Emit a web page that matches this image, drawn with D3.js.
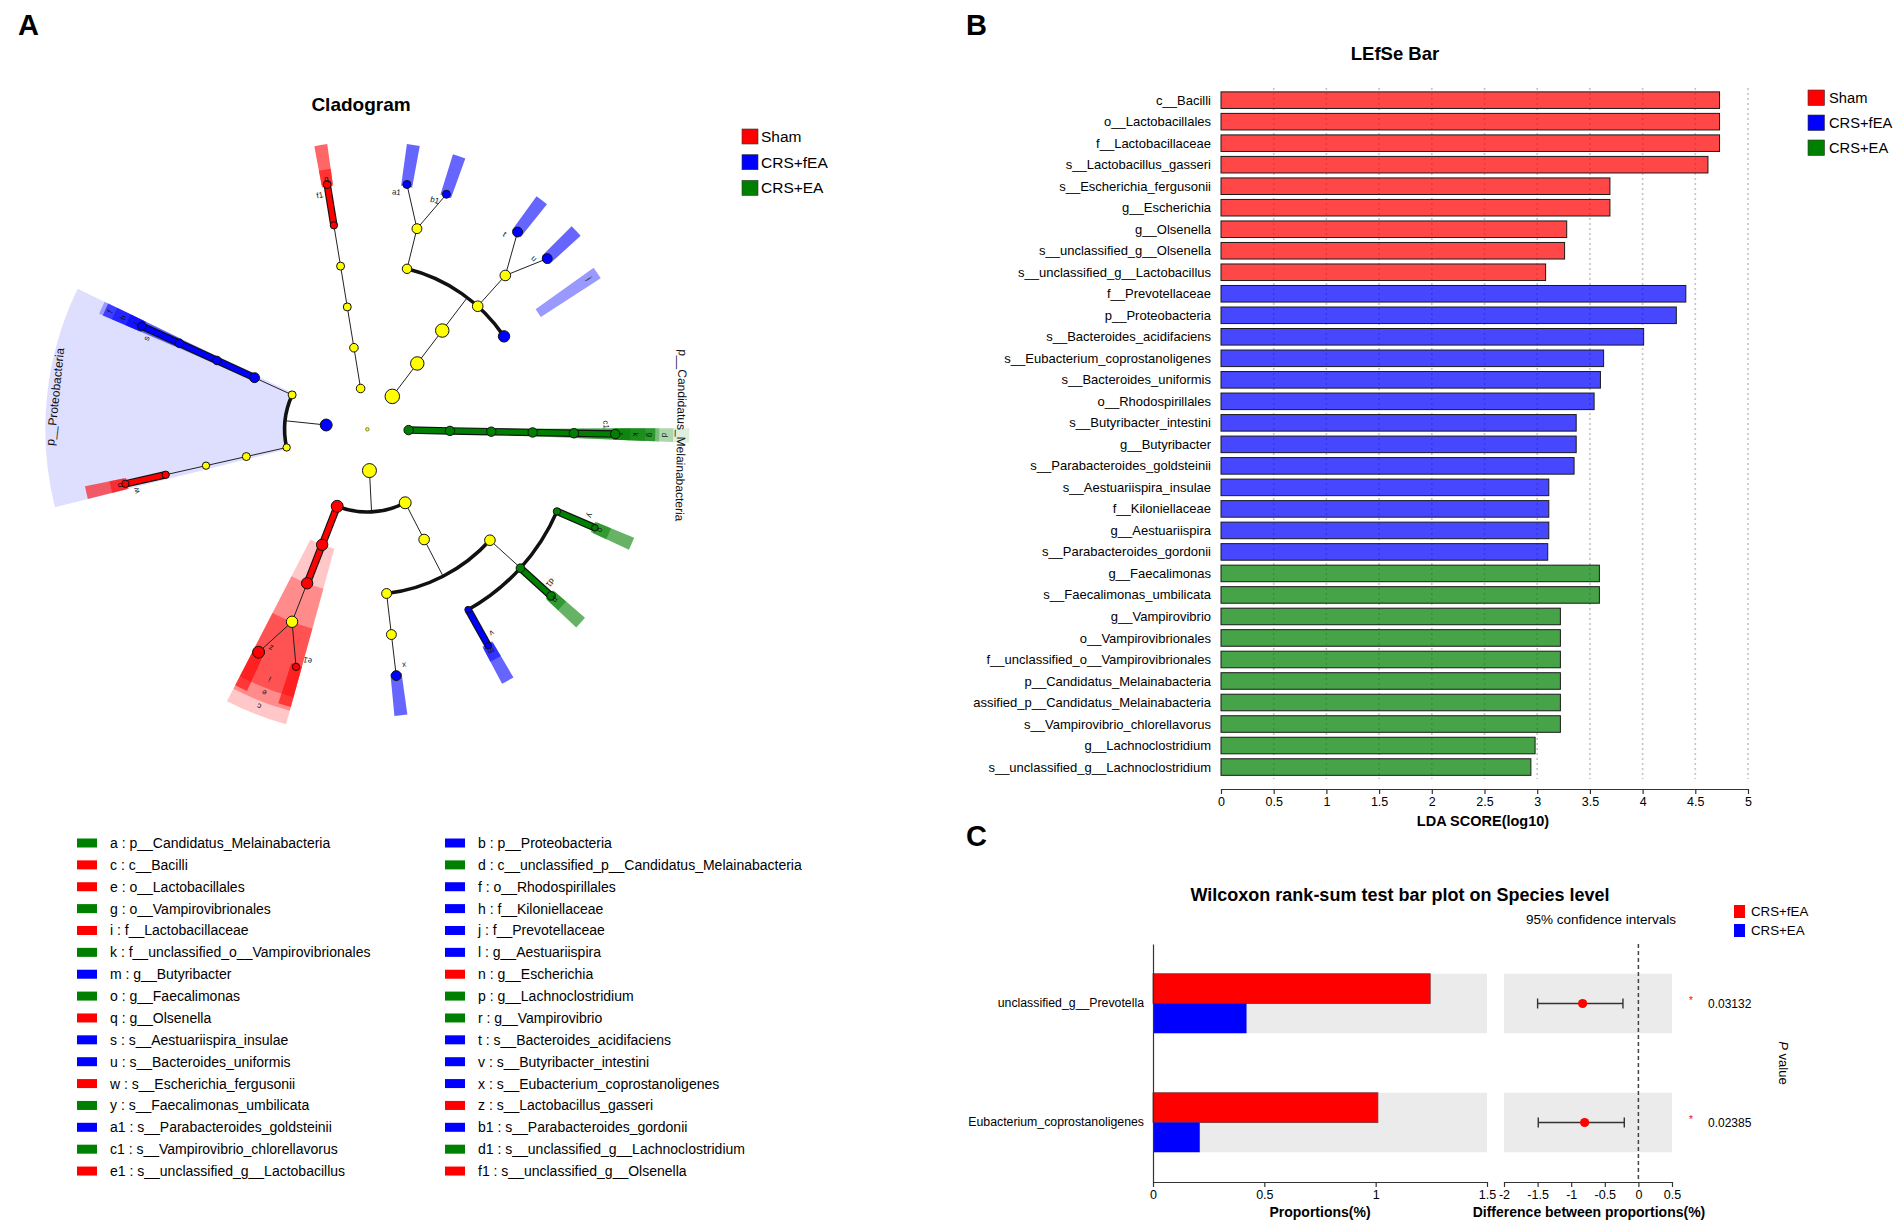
<!DOCTYPE html>
<html>
<head>
<meta charset="utf-8">
<script src="https://cdn.jsdelivr.net/npm/d3@7"></script>
<style>
  body { margin: 0; background: #fff; }
  svg { display: block; font-family: "Liberation Sans", Arial, sans-serif; }
</style>
</head>
<body>
<svg id="fig" width="1901" height="1225"></svg>
<script>
// ---- shared groups ----
const groups = ['Sham', 'CRS+fEA', 'CRS+EA'];
const groupColors = ['#ff0000', '#0000ff', '#008000'];

// ---- LEfSe bar (panel B) ----
const ldaTaxa = [
  'c__Bacilli', 'o__Lactobacillales', 'f__Lactobacillaceae', 's__Lactobacillus_gasseri',
  's__Escherichia_fergusonii', 'g__Escherichia', 'g__Olsenella', 's__unclassified_g__Olsenella',
  's__unclassified_g__Lactobacillus',
  'f__Prevotellaceae', 'p__Proteobacteria', 's__Bacteroides_acidifaciens',
  's__Eubacterium_coprostanoligenes', 's__Bacteroides_uniformis', 'o__Rhodospirillales',
  's__Butyribacter_intestini', 'g__Butyribacter', 's__Parabacteroides_goldsteinii',
  's__Aestuariispira_insulae', 'f__Kiloniellaceae', 'g__Aestuariispira', 's__Parabacteroides_gordonii',
  'g__Faecalimonas', 's__Faecalimonas_umbilicata', 'g__Vampirovibrio', 'o__Vampirovibrionales',
  'f__unclassified_o__Vampirovibrionales', 'p__Candidatus_Melainabacteria',
  'assified_p__Candidatus_Melainabacteria', 's__Vampirovibrio_chlorellavorus',
  'g__Lachnoclostridium', 's__unclassified_g__Lachnoclostridium'
];
const ldaScore = [
  4.73, 4.73, 4.73, 4.62, 3.69, 3.69, 3.28, 3.26, 3.08,
  4.41, 4.32, 4.01, 3.63, 3.60, 3.54, 3.37, 3.37, 3.35, 3.11, 3.11, 3.11, 3.10,
  3.59, 3.59, 3.22, 3.22, 3.22, 3.22, 3.22, 3.22, 2.98, 2.94
];
const ldaGroup = [
  'Sham', 'Sham', 'Sham', 'Sham', 'Sham', 'Sham', 'Sham', 'Sham', 'Sham',
  'CRS+fEA', 'CRS+fEA', 'CRS+fEA', 'CRS+fEA', 'CRS+fEA', 'CRS+fEA', 'CRS+fEA',
  'CRS+fEA', 'CRS+fEA', 'CRS+fEA', 'CRS+fEA', 'CRS+fEA', 'CRS+fEA',
  'CRS+EA', 'CRS+EA', 'CRS+EA', 'CRS+EA', 'CRS+EA', 'CRS+EA', 'CRS+EA', 'CRS+EA', 'CRS+EA', 'CRS+EA'
];
const ldaTicks = [0, 0.5, 1, 1.5, 2, 2.5, 3, 3.5, 4, 4.5, 5];

// ---- cladogram markers (panel A legend) ----
const markerLetters = ['a', 'b', 'c', 'd', 'e', 'f', 'g', 'h', 'i', 'j', 'k', 'l', 'm', 'n', 'o', 'p',
  'q', 'r', 's', 't', 'u', 'v', 'w', 'x', 'y', 'z', 'a1', 'b1', 'c1', 'd1', 'e1', 'f1'];
const markerNames = [
  'p__Candidatus_Melainabacteria', 'p__Proteobacteria', 'c__Bacilli',
  'c__unclassified_p__Candidatus_Melainabacteria', 'o__Lactobacillales', 'o__Rhodospirillales',
  'o__Vampirovibrionales', 'f__Kiloniellaceae', 'f__Lactobacillaceae', 'f__Prevotellaceae',
  'f__unclassified_o__Vampirovibrionales', 'g__Aestuariispira', 'g__Butyribacter', 'g__Escherichia',
  'g__Faecalimonas', 'g__Lachnoclostridium', 'g__Olsenella', 'g__Vampirovibrio',
  's__Aestuariispira_insulae', 's__Bacteroides_acidifaciens', 's__Bacteroides_uniformis',
  's__Butyribacter_intestini', 's__Escherichia_fergusonii', 's__Eubacterium_coprostanoligenes',
  's__Faecalimonas_umbilicata', 's__Lactobacillus_gasseri', 's__Parabacteroides_goldsteinii',
  's__Parabacteroides_gordonii', 's__Vampirovibrio_chlorellavorus', 's__unclassified_g__Lachnoclostridium',
  's__unclassified_g__Lactobacillus', 's__unclassified_g__Olsenella'
];
const markerGroups = [
  'CRS+EA', 'CRS+fEA', 'Sham', 'CRS+EA', 'Sham', 'CRS+fEA', 'CRS+EA', 'CRS+fEA', 'Sham', 'CRS+fEA',
  'CRS+EA', 'CRS+fEA', 'CRS+fEA', 'Sham', 'CRS+EA', 'CRS+EA', 'Sham', 'CRS+EA', 'CRS+fEA', 'CRS+fEA',
  'CRS+fEA', 'CRS+fEA', 'Sham', 'CRS+fEA', 'CRS+EA', 'Sham', 'CRS+fEA', 'CRS+fEA', 'CRS+EA', 'CRS+EA',
  'Sham', 'Sham'
];

// ---- cladogram tree: [taxon, parent, relative abundance, leaf angle (deg, clockwise from right)] ----
const cladeRows = [
  ['root', null, 2.5, null],
  ['p__Candidatus_Melainabacteria', 'root', 18, null],
  ['c__unclassified_p__Candidatus_Melainabacteria', 'p__Candidatus_Melainabacteria', 18, null],
  ['o__Vampirovibrionales', 'c__unclassified_p__Candidatus_Melainabacteria', 18, null],
  ['f__unclassified_o__Vampirovibrionales', 'o__Vampirovibrionales', 18, null],
  ['g__Vampirovibrio', 'f__unclassified_o__Vampirovibrionales', 18, null],
  ['s__Vampirovibrio_chlorellavorus', 'g__Vampirovibrio', 18, 1.1],
  ['p__Firmicutes', 'root', 40, null],
  ['c__Clostridia', 'p__Firmicutes', 29, null],
  ['o__Clostridiales', 'c__Clostridia', 23, null],
  ['f__Lachnospiraceae', 'o__Clostridiales', 23, null],
  ['g__Faecalimonas', 'f__Lachnospiraceae', 11, null],
  ['s__Faecalimonas_umbilicata', 'g__Faecalimonas', 9, 23.4],
  ['g__Lachnoclostridium', 'f__Lachnospiraceae', 15, null],
  ['s__unclassified_g__Lachnoclostridium', 'g__Lachnoclostridium', 15, 42.2],
  ['g__Butyribacter', 'f__Lachnospiraceae', 9, null],
  ['s__Butyribacter_intestini', 'g__Butyribacter', 9, 60.8],
  ['f__Ruminococcaceae', 'o__Clostridiales', 20, null],
  ['g__Eubacterium_coprostanoligenes_group', 'f__Ruminococcaceae', 20, null],
  ['s__Eubacterium_coprostanoligenes', 'g__Eubacterium_coprostanoligenes_group', 20, 83.3],
  ['c__Bacilli', 'p__Firmicutes', 29, null],
  ['o__Lactobacillales', 'c__Bacilli', 26.5, null],
  ['f__Lactobacillaceae', 'o__Lactobacillales', 26.5, null],
  ['g__Lactobacillus', 'f__Lactobacillaceae', 26.5, null],
  ['s__unclassified_g__Lactobacillus', 'g__Lactobacillus', 11, 106.7],
  ['s__Lactobacillus_gasseri', 'g__Lactobacillus', 29, 116.0],
  ['p__Proteobacteria', 'root', 29, null],
  ['c__Gammaproteobacteria', 'p__Proteobacteria', 11, null],
  ['o__Enterobacterales', 'c__Gammaproteobacteria', 13, null],
  ['f__Enterobacteriaceae', 'o__Enterobacterales', 11, null],
  ['g__Escherichia', 'f__Enterobacteriaceae', 11, null],
  ['s__Escherichia_fergusonii', 'g__Escherichia', 11, 167.3],
  ['c__Alphaproteobacteria', 'p__Proteobacteria', 13, null],
  ['o__Rhodospirillales', 'c__Alphaproteobacteria', 20, null],
  ['f__Kiloniellaceae', 'o__Rhodospirillales', 15, null],
  ['g__Aestuariispira', 'f__Kiloniellaceae', 15, null],
  ['s__Aestuariispira_insulae', 'g__Aestuariispira', 15, 204.6],
  ['p__Actinobacteria', 'root', 15, null],
  ['c__Coriobacteriia', 'p__Actinobacteria', 15, null],
  ['o__Coriobacteriales', 'c__Coriobacteriia', 13, null],
  ['f__Atopobiaceae', 'o__Coriobacteriales', 13, null],
  ['g__Olsenella', 'f__Atopobiaceae', 11, null],
  ['s__unclassified_g__Olsenella', 'g__Olsenella', 13, 260.7],
  ['p__Bacteroidetes', 'root', 43, null],
  ['c__Bacteroidia', 'p__Bacteroidetes', 37, null],
  ['o__Bacteroidales', 'c__Bacteroidia', 37, null],
  ['f__Tannerellaceae', 'o__Bacteroidales', 18, null],
  ['g__Parabacteroides', 'f__Tannerellaceae', 20, null],
  ['s__Parabacteroides_goldsteinii', 'g__Parabacteroides', 13, 279.2],
  ['s__Parabacteroides_gordonii', 'g__Parabacteroides', 13, 288.6],
  ['f__Bacteroidaceae', 'o__Bacteroidales', 23, null],
  ['g__Bacteroides', 'f__Bacteroidaceae', 23, null],
  ['s__Bacteroides_acidifaciens', 'g__Bacteroides', 20, 307.3],
  ['s__Bacteroides_uniformis', 'g__Bacteroides', 20, 316.5],
  ['f__Prevotellaceae', 'o__Bacteroidales', 26.5, 325.8]
];

// ---- Wilcoxon (panel C) ----
const wxSpecies = ['unclassified_g__Prevotella', 'Eubacterium_coprostanoligenes'];
const wxGroups = ['CRS+fEA', 'CRS+EA'];
const propFEA = [1.245, 1.01];
const propEA = [0.42, 0.21];
const diffMean = [-0.83, -0.80];
const diffLow = [-1.50, -1.49];
const diffHigh = [-0.23, -0.21];
const pValues = ['0.03132', '0.02385'];
const propTicks = [0, 0.5, 1, 1.5];
const diffTicks = [-2, -1.5, -1, -0.5, 0, 0.5];

// ------------------------------------------------------------
const svg = d3.select('#fig');
svg.append('rect').attr('width', 1901).attr('height', 1225).attr('fill', '#fff');
const color = d3.scaleOrdinal().domain(groups).range(groupColors);
const plain = d => String(d); // keep a normal hyphen for negatives

// panel letters
[['A', 18, 35], ['B', 966, 35], ['C', 966, 846]].forEach(([t, x, y]) => {
  svg.append('text').attr('x', x).attr('y', y).attr('font-size', 29)
    .attr('font-weight', 'bold').text(t);
});

// ================= Panel A : cladogram =================
const cx = 367.3, cy = 429.3;
const rad = d3.scaleLinear().domain([0, 6]).range([0, 248]);
const nodeR = d3.scaleSqrt().domain([0, 40]).range([0, 7]);
const toRad = a => a * Math.PI / 180;
const pos = (r, a) => [cx + r * Math.cos(toRad(a)), cy + r * Math.sin(toRad(a))];
const outerByLevel = { 1: 322, 2: 306, 3: 292, 4: 278, 5: 263, 6: 288 };
const opByLevel = { 1: 0.13, 2: 0.22, 3: 0.3, 4: 0.4, 5: 0.5, 6: 0.6 };
const halfW = 1.3;

const groupOf = new Map(markerNames.map((n, i) => [n, markerGroups[i]]));
const letterOf = new Map(markerNames.map((n, i) => [n, markerLetters[i]]));

const tree = d3.stratify().id(d => d[0]).parentId(d => d[1])(cladeRows);
tree.eachAfter(n => {
  n.ang = n.children ? d3.mean(n.children, c => c.ang) : n.data[3];
  n.lo = n.children ? d3.min(n.children, c => c.lo) : n.ang;
  n.hi = n.children ? d3.max(n.children, c => c.hi) : n.ang;
  n.grp = groupOf.get(n.id) || null;
});

const gA = svg.append('g');
svg.append('text').attr('x', 361).attr('y', 111).attr('text-anchor', 'middle')
  .attr('font-size', 19).attr('font-weight', 'bold').text('Cladogram');

// shaded sectors
const sector = d3.arc();
const sig = tree.descendants().filter(n => n.grp).sort((a, b) => a.depth - b.depth);
sig.forEach(n => {
  const L = n.depth;
  const inner = L < 6 ? rad(L + 1) : rad(6) - 2;
  gA.append('path')
    .attr('transform', `translate(${cx},${cy})`)
    .attr('d', sector({
      innerRadius: inner, outerRadius: outerByLevel[L],
      startAngle: toRad(n.lo - halfW + 90), endAngle: toRad(n.hi + halfW + 90)
    }))
    .attr('fill', color(n.grp)).attr('fill-opacity', opByLevel[L]);
});

// edges
const gEdge = gA.append('g');
const gThick = gA.append('g');
tree.descendants().forEach(p => {
  if (!p.children || p.depth === 0) return;
  const cl = p.depth + 1;
  if (p.children.length > 1 && cl <= 5) {
    const a = pos(rad(p.depth), p.ang), b = pos(rad(cl), p.ang);
    gEdge.append('line').attr('x1', a[0]).attr('y1', a[1]).attr('x2', b[0]).attr('y2', b[1])
      .attr('stroke', '#222').attr('stroke-width', 1);
    const path = d3.path();
    const lo = d3.min(p.children, c => c.ang), hi = d3.max(p.children, c => c.ang);
    const s = pos(rad(cl), lo);
    path.moveTo(s[0], s[1]);
    path.arc(cx, cy, rad(cl), toRad(lo), toRad(hi));
    gEdge.append('path').attr('d', path.toString()).attr('fill', 'none')
      .attr('stroke', '#111').attr('stroke-width', 3.6);
  } else {
    p.children.forEach(c => {
      const a = pos(rad(p.depth), p.ang), b = pos(rad(c.depth), c.ang);
      if (p.grp && p.grp === c.grp) {
        gThick.append('line').attr('x1', a[0]).attr('y1', a[1]).attr('x2', b[0]).attr('y2', b[1])
          .attr('stroke', '#111').attr('stroke-width', 7.5);
        gThick.append('line').attr('x1', a[0]).attr('y1', a[1]).attr('x2', b[0]).attr('y2', b[1])
          .attr('stroke', color(p.grp)).attr('stroke-width', 5.2);
      } else {
        gEdge.append('line').attr('x1', a[0]).attr('y1', a[1]).attr('x2', b[0]).attr('y2', b[1])
          .attr('stroke', '#222').attr('stroke-width', 1);
      }
    });
  }
});

// nodes
tree.descendants().forEach(n => {
  const [x, y] = pos(rad(n.depth), n.ang || 0);
  gA.append('circle').attr('cx', x).attr('cy', y).attr('r', nodeR(n.data[2]))
    .attr('fill', n.grp ? color(n.grp) : '#ffff00')
    .attr('stroke', '#111').attr('stroke-width', n.depth === 0 ? 0.5 : 1);
});

// clade labels
sig.forEach(n => {
  const L = n.depth;
  const mid = (n.lo + n.hi) / 2;
  let r, a = mid, fs = 8, txt = letterOf.get(n.id);
  if (L === 1) { r = 314; txt = n.id; fs = 12; }
  else if (L < 6) { r = 254 + (5 - L) * 14.5; }
  else { r = rad(6) - 9; a = mid - 2.2; }
  const [x, y] = pos(r, a);
  gA.append('text').attr('transform', `translate(${x},${y}) rotate(${a + 90})`)
    .attr('text-anchor', 'middle').attr('dy', '0.35em')
    .attr('font-size', fs).attr('fill', '#111').text(txt);
});

// group legend (top)
groups.forEach((g, i) => {
  const y = 129 + i * 25.7;
  svg.append('rect').attr('x', 742).attr('y', y).attr('width', 16).attr('height', 15)
    .attr('fill', color(g)).attr('stroke', '#333').attr('stroke-width', 0.6);
  svg.append('text').attr('x', 761).attr('y', y + 13).attr('font-size', 15.5).text(g);
});

// marker legend (bottom)
markerLetters.forEach((l, i) => {
  const col = i % 2, row = Math.floor(i / 2);
  const y = 843 + row * 21.87;
  const x0 = col === 0 ? 77 : 445;
  svg.append('rect').attr('x', x0).attr('y', y - 4.5).attr('width', 20).attr('height', 9)
    .attr('fill', color(markerGroups[i]));
  svg.append('text').attr('x', x0 + 33).attr('y', y + 5).attr('font-size', 14)
    .text(`${l} : ${markerNames[i]}`);
});

// ================= Panel B : LEfSe bar =================
const xB = d3.scaleLinear().domain([0, 5]).range([1221, 1748]);
const yB = d3.scaleBand().domain(ldaTaxa).range([89.4, 777.8]).paddingInner(0.23).paddingOuter(0.115);
const gB = svg.append('g');

svg.append('text').attr('x', 1395).attr('y', 59.5).attr('text-anchor', 'middle')
  .attr('font-size', 18.5).attr('font-weight', 'bold').text('LEfSe Bar');

ldaTicks.filter(v => v > 0).forEach(v => {
  gB.append('line').attr('x1', xB(v)).attr('x2', xB(v)).attr('y1', 88).attr('y2', 779)
    .attr('stroke', '#c4c4c4').attr('stroke-width', 1.6).attr('stroke-dasharray', '2,3');
});

gB.selectAll('rect.bar').data(ldaTaxa).join('rect').attr('class', 'bar')
  .attr('x', xB(0)).attr('y', d => yB(d))
  .attr('width', (d, i) => xB(ldaScore[i]) - xB(0)).attr('height', yB.bandwidth())
  .attr('fill', (d, i) => color(ldaGroup[i])).attr('fill-opacity', 0.72)
  .attr('stroke', '#1a1a1a').attr('stroke-width', 1);

gB.selectAll('text.lab').data(ldaTaxa).join('text').attr('class', 'lab')
  .attr('x', 1211).attr('y', d => yB(d) + yB.bandwidth() / 2).attr('dy', '0.35em')
  .attr('text-anchor', 'end').attr('font-size', 13).text(d => d);

const axB = svg.append('g').attr('transform', 'translate(0,789)')
  .call(d3.axisBottom(xB).tickValues(ldaTicks).tickSize(5).tickSizeOuter(0).tickFormat(plain));
axB.selectAll('text').attr('font-size', 12.5).attr('fill', '#000')
  .attr('font-family', '"Liberation Sans", Arial, sans-serif');
axB.selectAll('path,line').attr('stroke', '#333').attr('stroke-width', 1.2);

svg.append('text').attr('x', 1483).attr('y', 826).attr('text-anchor', 'middle')
  .attr('font-size', 14.5).attr('font-weight', 'bold').text('LDA SCORE(log10)');

groups.forEach((g, i) => {
  const y = 90 + i * 25;
  svg.append('rect').attr('x', 1808).attr('y', y).attr('width', 16.5).attr('height', 15.5)
    .attr('fill', color(g)).attr('stroke', '#333').attr('stroke-width', 0.6);
  svg.append('text').attr('x', 1829).attr('y', y + 13.3).attr('font-size', 14.7).text(g);
});

// ================= Panel C : Wilcoxon =================
const xL = d3.scaleLinear().domain([0, 1.5]).range([1153, 1487]);
const xR = d3.scaleLinear().domain([-2, 0.5]).range([1504, 1672]);
const yC = d3.scaleBand().domain(wxSpecies).range([944, 1182]).paddingInner(0.5).paddingOuter(0.25);
const bw = yC.bandwidth();
const gC = svg.append('g');

svg.append('text').attr('x', 1400).attr('y', 901).attr('text-anchor', 'middle')
  .attr('font-size', 18).attr('font-weight', 'bold')
  .text('Wilcoxon rank-sum test bar plot on Species level');
svg.append('text').attr('x', 1601).attr('y', 924).attr('text-anchor', 'middle')
  .attr('font-size', 13.5).text('95% confidence intervals');

wxGroups.forEach((g, i) => {
  const y = 905 + i * 19;
  svg.append('rect').attr('x', 1734).attr('y', y).attr('width', 11).attr('height', 13)
    .attr('fill', i === 0 ? '#ff0000' : '#0000ff');
  svg.append('text').attr('x', 1751).attr('y', y + 11).attr('font-size', 13.3).text(g);
});

wxSpecies.forEach((s, i) => {
  const y0 = yC(s);
  gC.append('rect').attr('x', xL(0)).attr('y', y0).attr('width', xL(1.5) - xL(0)).attr('height', bw)
    .attr('fill', '#ebebeb');
  gC.append('rect').attr('x', xR(-2)).attr('y', y0).attr('width', xR(0.5) - xR(-2)).attr('height', bw)
    .attr('fill', '#ebebeb');
  gC.append('rect').attr('x', xL(0)).attr('y', y0).attr('width', xL(propFEA[i]) - xL(0)).attr('height', bw / 2)
    .attr('fill', '#ff0000').attr('stroke', '#7a3030').attr('stroke-width', 0.8);
  gC.append('rect').attr('x', xL(0)).attr('y', y0 + bw / 2).attr('width', xL(propEA[i]) - xL(0)).attr('height', bw / 2)
    .attr('fill', '#0000ff');
  const yc = y0 + bw / 2;
  gC.append('line').attr('x1', xR(diffLow[i])).attr('x2', xR(diffHigh[i])).attr('y1', yc).attr('y2', yc)
    .attr('stroke', '#333').attr('stroke-width', 1.6);
  [diffLow[i], diffHigh[i]].forEach(v => {
    gC.append('line').attr('x1', xR(v)).attr('x2', xR(v)).attr('y1', yc - 5).attr('y2', yc + 5)
      .attr('stroke', '#333').attr('stroke-width', 1.4);
  });
  gC.append('circle').attr('cx', xR(diffMean[i])).attr('cy', yc).attr('r', 4.6).attr('fill', '#ff0000');
  gC.append('text').attr('x', 1691).attr('y', yc).attr('text-anchor', 'middle')
    .attr('font-size', 10).attr('fill', '#ff0000').text('*');
  gC.append('text').attr('x', 1708).attr('y', yc + 4.3).attr('font-size', 12).text(pValues[i]);
});

gC.append('line').attr('x1', xR(0)).attr('x2', xR(0)).attr('y1', 944).attr('y2', 1182)
  .attr('stroke', '#444').attr('stroke-width', 1.5).attr('stroke-dasharray', '4,3');

const axCL = svg.append('g').attr('transform', `translate(${xL(0)},0)`)
  .call(d3.axisLeft(yC).tickSize(0).tickSizeOuter(0).tickPadding(9));
const axCB1 = svg.append('g').attr('transform', 'translate(0,1182)')
  .call(d3.axisBottom(xL).tickValues(propTicks).tickSize(5).tickSizeOuter(0).tickFormat(plain));
const axCB2 = svg.append('g').attr('transform', 'translate(0,1182)')
  .call(d3.axisBottom(xR).tickValues(diffTicks).tickSize(5).tickSizeOuter(0).tickFormat(plain));
[axCL, axCB1, axCB2].forEach(a => {
  a.selectAll('text').attr('fill', '#000').attr('font-family', '"Liberation Sans", Arial, sans-serif');
  a.selectAll('path,line').attr('stroke', '#333').attr('stroke-width', 1.2);
});
axCL.selectAll('text').attr('font-size', 12.3);
axCB1.selectAll('text').attr('font-size', 12.5);
axCB2.selectAll('text').attr('font-size', 12.5);

svg.append('text').attr('x', 1320).attr('y', 1217).attr('text-anchor', 'middle')
  .attr('font-size', 14).attr('font-weight', 'bold').text('Proportions(%)');
svg.append('text').attr('x', 1589).attr('y', 1217).attr('text-anchor', 'middle')
  .attr('font-size', 14).attr('font-weight', 'bold').text('Difference between proportions(%)');

const pv = svg.append('text').attr('transform', 'translate(1779,1063) rotate(90)')
  .attr('text-anchor', 'middle').attr('font-size', 13);
pv.append('tspan').attr('font-style', 'italic').text('P');
pv.append('tspan').text(' value');
</script>
</body>
</html>
